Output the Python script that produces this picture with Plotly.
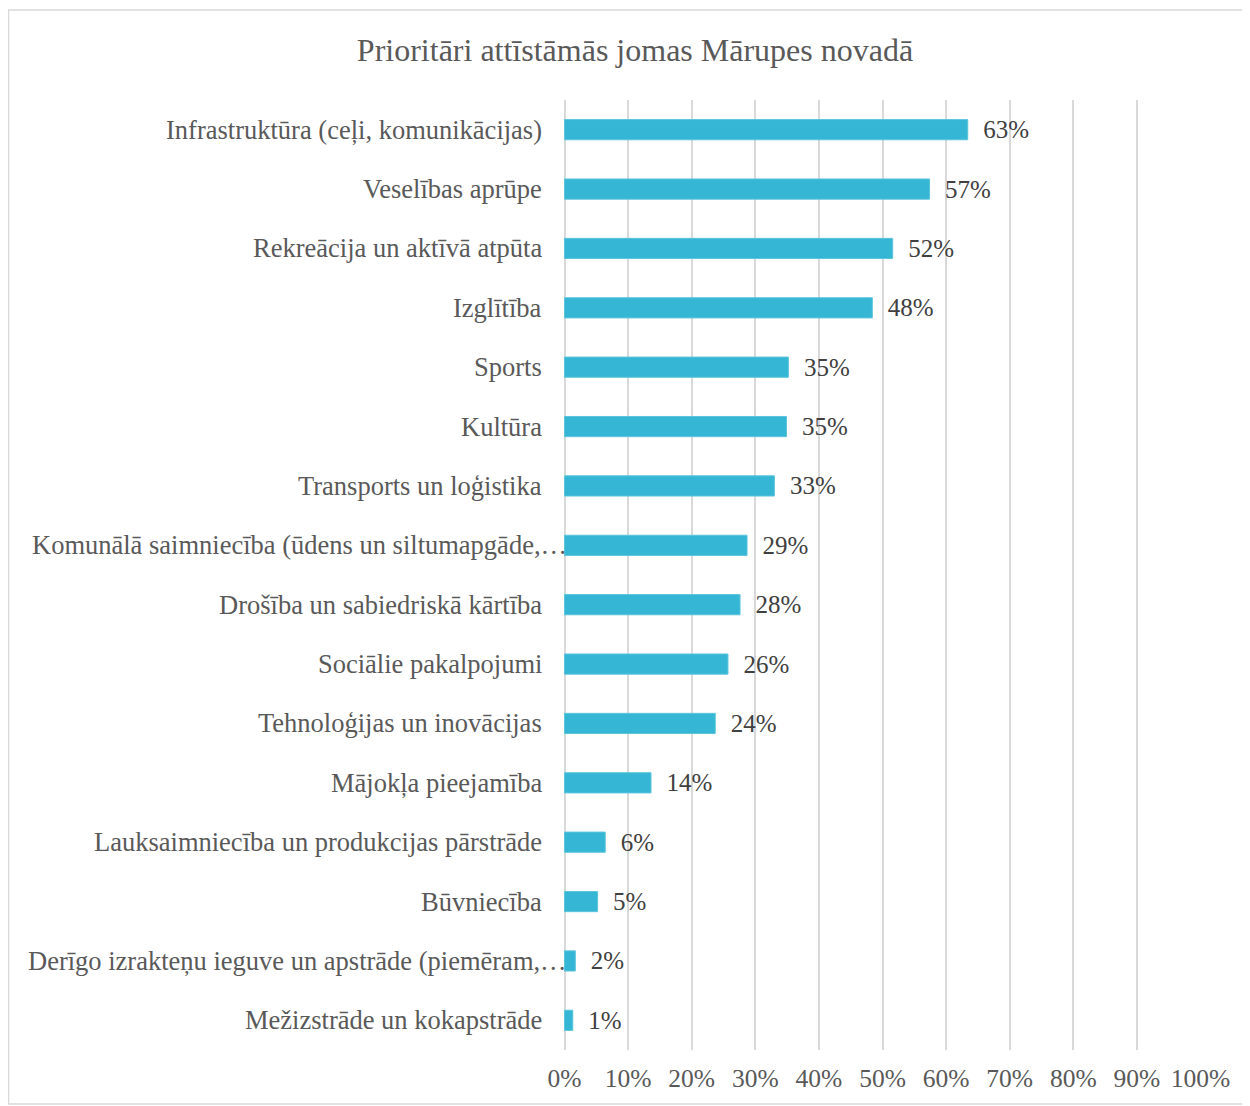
import plotly.graph_objects as go

categories = [
    "Infrastruktūra (ceļi, komunikācijas)",
    "Veselības aprūpe",
    "Rekreācija un aktīvā atpūta",
    "Izglītība",
    "Sports",
    "Kultūra",
    "Transports un loģistika",
    "Komunālā saimniecība (ūdens un siltumapgāde,…",
    "Drošība un sabiedriskā kārtība",
    "Sociālie pakalpojumi",
    "Tehnoloģijas un inovācijas",
    "Mājokļa pieejamība",
    "Lauksaimniecība un produkcijas pārstrāde",
    "Būvniecība",
    "Derīgo izrakteņu ieguve un apstrāde (piemēram,…",
    "Mežizstrāde un kokapstrāde",
]
values = [63.4, 57.4, 51.6, 48.4, 35.2, 34.9, 33.0, 28.7, 27.6, 25.7, 23.7, 13.6, 6.4, 5.2, 1.7, 1.3]
labels = ["63%", "57%", "52%", "48%", "35%", "35%", "33%", "29%", "28%", "26%", "24%", "14%", "6%", "5%", "2%", "1%"]
tick_vals = list(range(0, 101, 10))
tick_text = [f"{v}%" for v in tick_vals]

# page body has an 8px margin; figure coordinates are page coordinates minus 8
W, H = 1242, 1098
L, R, T, B = 556, 49, 92, 56
pw, ph = W - L - R, H - T - B

FONT = "Liberation Serif, Times New Roman, serif"
GREY = "#595959"

fig = go.Figure(go.Bar(
    y=categories,
    x=values,
    orientation="h",
    marker=dict(color="#35B6D4", line=dict(color="#5CC4DD", width=1)),
    text=["\u00a0\u00a0" + s for s in labels],
    textposition="outside",
    constraintext="none",
    textfont=dict(family=FONT, size=25, color="#404040"),
    cliponaxis=False,
))

# category labels as annotations on the category axis (truncated ones overflow to the right, as in Excel)
annotations = []
for cat in categories:
    annotations.append(dict(
        x=0, y=cat, xref="x", yref="y",
        text=cat, showarrow=False,
        xanchor="right", yanchor="middle",
        xshift=4 if cat.endswith("…") else -21,
        font=dict(family=FONT, size=26.5, color=GREY),
    ))

fig.update_layout(
    width=W, height=H,
    margin=dict(l=L, r=R, t=T, b=B, autoexpand=False),
    paper_bgcolor="white",
    plot_bgcolor="white",
    bargap=0.66,
    showlegend=False,
    font=dict(family=FONT, color=GREY),
    title=dict(
        text="Prioritāri attīstāmās jomas Mārupes novadā",
        x=627 / W, xref="container", xanchor="center",
        y=1 - 42 / H, yref="container", yanchor="middle",
        font=dict(family=FONT, size=32, color=GREY),
    ),
    xaxis=dict(
        range=[-0.08, 100.08],
        tickvals=tick_vals,
        ticktext=tick_text,
        showgrid=True,
        gridcolor="#D9D9D9",
        gridwidth=1.5,
        zeroline=True,
        zerolinecolor="#D9D9D9",
        zerolinewidth=1.5,
        showline=False,
        ticks="",
        ticklabelstandoff=10,
        tickfont=dict(family=FONT, size=25.5, color=GREY),
    ),
    yaxis=dict(
        autorange="reversed",
        showgrid=False,
        zeroline=False,
        showline=False,
        ticks="",
        showticklabels=False,
    ),
    annotations=annotations,
    shapes=[dict(
        type="rect", xref="paper", yref="paper",
        x0=(0.5 - L) / pw, x1=(1240 - L) / pw,
        y0=-(1096 - (H - B)) / ph, y1=1 + (T - 2) / ph,
        line=dict(color="#D9D9D9", width=1.5),
        fillcolor="rgba(0,0,0,0)",
        layer="below",
    )],
)

fig.write_html("out.html")
